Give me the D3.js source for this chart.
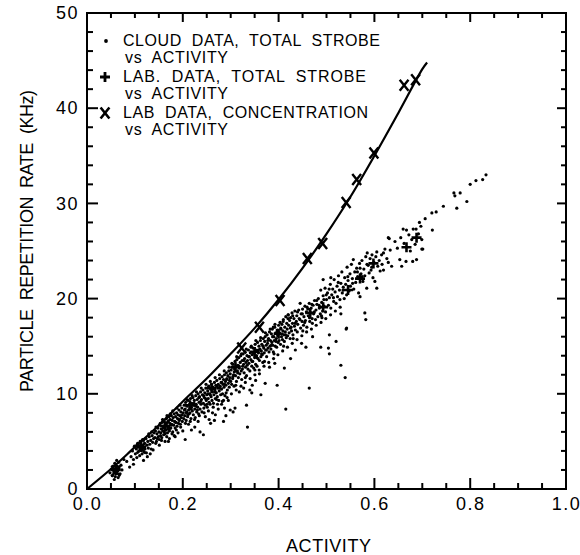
<!DOCTYPE html>
<html>
<head>
<meta charset="utf-8">
<script src="https://cdn.jsdelivr.net/npm/d3@7"></script>
<style>
  body { margin: 0; background: #fff; }
  svg { display: block; }
  text { font-family: "Liberation Sans", Arial, sans-serif; fill: #000; }
</style>
</head>
<body>
<svg id="chart" width="580" height="555"></svg>
<script>
// Axis ticks
const xMajorTicks = [0.0, 0.2, 0.4, 0.6, 0.8, 1.0];
const yMajorTicks = [0, 10, 20, 30, 40, 50];
const xMinorStep = 0.05;
const yMinorStep = 2;

// Smooth fit through the laboratory concentration data (activity, kHz)
const fitCurve = [
  [0, 0], [0.05, 2.1], [0.1, 4.4], [0.15, 6.7], [0.2, 9.2], [0.25, 11.6],
  [0.3, 14.2], [0.35, 16.9], [0.4, 19.9], [0.45, 23.2], [0.5, 26.8],
  [0.55, 30.7], [0.6, 35.0], [0.65, 39.5], [0.7, 44.1], [0.71, 44.8]
];

// Lab data, concentration vs activity (X markers)
const labConcentration = [
  [0.06, 1.9], [0.113, 4.3], [0.165, 6.8], [0.323, 14.8], [0.36, 17.0],
  [0.403, 19.8], [0.46, 24.2], [0.492, 25.8], [0.541, 30.1], [0.563, 32.5],
  [0.599, 35.3], [0.662, 42.4], [0.686, 43.0]
];

// Lab data, total strobe vs activity (+ markers)
const labTotalStrobe = [
  [0.06, 2.0], [0.113, 4.4], [0.163, 6.6], [0.215, 8.8], [0.26, 10.6],
  [0.31, 12.8], [0.35, 14.4], [0.4, 16.3], [0.466, 18.5], [0.493, 19.1],
  [0.545, 20.9], [0.57, 22.1], [0.598, 23.7], [0.667, 25.4], [0.688, 26.4]
];

// Cloud data, total strobe vs activity (dots), split by activity range
const cloudLow = [
  [.048,1.7],[.051,2.1],[.053,1.4],[.055,2.4],[.056,1.8],[.058,2.7],[.059,1.3],[.060,2.1],
  [.061,1.6],[.063,2.4],[.064,1.9],[.065,1.2],[.066,2.8],[.067,2.2],[.069,1.6],[.071,2.5],
  [.073,2.0],[.057,1.0],[.062,3.0],[.083,2.9],[.089,2.3],[.097,2.6],[.077,3.1],
  [.092,3.4],[.095,4.0],[.097,3.1],[.099,4.5],[.101,3.7],[.103,4.2],[.104,3.3],[.106,4.8],
  [.107,3.9],[.109,4.4],[.110,3.5],[.111,5.0],[.112,4.1],[.114,4.6],[.115,3.7],[.116,5.2],
  [.117,4.3],[.119,3.9],[.120,4.8],[.121,4.2],[.123,5.3],[.124,3.8],[.125,4.6],[.127,5.0],
  [.128,4.3],[.130,5.5],[.131,4.7],[.133,5.1],[.134,4.2],[.136,5.6],[.137,4.9],[.139,5.3],
  [.140,5.9],[.118,3.0],[.126,3.4],[.132,3.7],[.138,4.1],
  [.142,5.4],[.143,6.1],[.145,5.0],[.146,5.8],[.148,6.4],[.149,5.5],[.150,6.0],[.151,5.2],
  [.152,6.7],[.154,5.9],[.155,6.3],[.156,5.4],[.157,7.0],[.158,6.1],[.159,6.6],[.160,5.7],
  [.161,7.2],[.162,6.4],[.163,5.8],[.164,6.9],[.165,6.2],[.166,7.4],[.167,6.6],[.168,5.9],
  [.169,7.1],[.170,6.5],[.171,7.6],[.172,6.1],[.173,6.9],[.174,7.3],[.175,6.4],[.176,7.7],
  [.177,6.8],[.178,7.2],[.179,6.0],[.180,7.5],[.181,6.7],[.182,7.9],[.183,7.1],[.184,6.4],
  [.185,7.6],[.186,7.0],[.187,8.0],[.188,6.6],[.189,7.4],[.190,7.8],[.191,6.9],[.192,8.3],
  [.193,7.3],[.194,7.7],[.195,6.8],[.196,8.1],[.197,7.5],[.198,8.5],[.199,7.1],
  [.151,4.6],[.163,5.0],[.172,5.3],[.182,5.6],[.190,5.9],[.205,5.2],[.218,6.2],[.225,6.5],
  [.243,5.7],[.200,6.1],[.184,5.5],[.170,5.0]
];

const cloudMid = [
  [.201,8.0],[.202,7.4],[.203,8.8],[.204,7.7],[.205,8.4],[.206,9.1],[.207,7.2],[.208,8.1],
  [.209,8.7],[.210,7.6],[.211,9.3],[.212,8.3],[.213,7.9],[.214,8.9],[.215,8.0],[.216,9.5],
  [.217,7.4],[.218,8.6],[.219,9.0],[.220,8.2],[.221,9.6],[.222,7.8],[.223,8.8],[.224,9.3],
  [.225,8.4],[.226,7.5],[.227,9.8],[.228,8.9],[.229,8.1],[.230,9.4],[.231,8.6],[.232,10.0],
  [.233,7.9],[.234,9.1],[.235,9.7],[.236,8.4],[.237,10.2],[.238,8.9],[.239,9.4],[.240,8.1],
  [.241,9.9],[.242,10.4],[.243,9.0],[.244,8.5],[.245,9.6],[.246,10.1],[.247,8.8],[.248,10.6],
  [.249,9.3],[.250,9.9],[.251,8.6],[.252,10.3],[.253,9.5],[.254,10.8],[.255,9.1],[.256,10.0],
  [.257,8.9],[.258,10.5],[.259,9.7],[.260,11.0],[.261,9.3],[.262,10.2],[.263,10.7],[.264,9.0],
  [.265,9.9],[.266,11.2],[.267,10.4],[.268,9.5],[.269,10.9],[.270,10.1],[.271,11.4],[.272,9.7],
  [.273,10.6],[.274,11.0],[.275,9.3],[.276,10.3],[.277,11.6],[.278,10.8],[.279,9.9],[.280,11.2],
  [.281,10.5],[.282,11.8],[.283,10.0],[.284,11.0],[.285,11.5],[.286,10.7],[.287,12.0],[.288,9.8],
  [.289,11.3],[.290,10.9],[.291,12.2],[.292,11.6],[.293,10.4],[.294,11.9],[.295,11.1],[.296,12.4],
  [.297,10.7],[.298,11.7],[.299,12.1],[.300,11.3],
  [.212,6.8],[.232,7.1],[.247,7.6],[.255,7.3],[.262,8.0],[.268,7.8],[.274,8.4],[.281,8.9],
  [.287,8.5],[.295,9.3],[.290,7.7],[.236,6.0],[.258,6.9],[.266,7.2],[.285,7.1],[.305,8.1],
  [.301,12.5],[.302,11.0],[.303,12.8],[.304,11.6],[.305,13.1],[.306,12.0],[.307,10.8],[.308,12.6],
  [.309,13.4],[.310,11.9],[.311,12.9],[.312,11.3],[.313,13.6],[.314,12.4],[.315,13.0],[.316,11.7],
  [.317,13.8],[.318,12.7],[.319,12.1],[.320,13.3],[.321,14.0],[.322,12.4],[.323,11.5],[.324,13.5],
  [.325,12.9],[.326,14.2],[.327,13.1],[.328,12.2],[.329,13.7],[.330,14.4],[.331,12.8],[.332,13.3],
  [.333,11.9],[.334,14.0],[.335,13.5],[.336,12.6],[.337,14.6],[.338,13.2],[.339,13.9],[.340,12.4],
  [.341,14.3],[.342,13.6],[.343,15.0],[.344,12.9],[.345,14.1],[.346,13.4],[.347,14.8],[.348,12.7],
  [.349,14.4],[.350,13.8],[.351,15.2],[.352,13.1],[.353,14.6],[.354,14.0],[.355,12.9],[.356,15.4],
  [.357,13.7],[.358,14.3],[.359,15.0],[.360,13.5],[.361,14.7],[.362,15.6],[.363,13.9],[.364,14.5],
  [.365,15.2],[.366,14.1],[.367,13.3],[.368,15.8],[.369,14.8],[.370,14.3],[.371,15.5],[.372,16.0],
  [.373,14.6],[.374,15.1],[.375,13.9],[.376,16.2],[.377,15.3],[.378,14.8],[.379,15.8],[.380,14.4],
  [.381,16.5],[.382,15.0],[.383,15.6],[.384,14.7],[.385,16.3],[.386,15.4],[.387,16.8],[.388,15.1],
  [.389,14.4],[.390,16.0],[.391,15.6],[.392,17.0],[.393,15.0],[.394,16.4],[.395,15.8],[.396,14.9],
  [.397,16.7],[.398,16.1],[.399,15.4],[.400,17.2],
  [.309,8.5],[.299,8.3],[.285,9.3],[.333,8.8],[.340,10.4],[.344,10.1],[.363,9.9],[.372,11.1],
  [.397,10.9],[.415,8.4],[.335,6.5],[.318,10.2],[.327,10.6],[.352,11.4],[.345,10.9],[.360,12.1],
  [.381,12.8],[.392,13.2],[.412,12.7],[.425,13.7],[.464,10.6],[.389,17.0]
];

const cloudHigh = [
  [.401,15.6],[.402,16.4],[.403,17.5],[.404,15.2],[.405,16.8],[.406,16.0],[.407,17.3],[.408,15.7],
  [.409,16.6],[.410,17.8],[.411,16.2],[.412,15.5],[.413,17.0],[.414,16.5],[.415,18.1],[.416,15.9],
  [.417,17.4],[.418,16.8],[.419,16.1],[.420,18.3],[.421,17.2],[.422,16.4],[.423,17.7],[.424,15.8],
  [.425,18.0],[.426,17.0],[.427,16.6],[.428,18.5],[.429,17.4],[.430,16.2],[.432,17.9],[.433,17.1],
  [.434,18.7],[.435,16.7],[.437,17.6],[.438,18.2],[.439,16.5],[.440,17.3],[.442,18.8],[.443,17.9],
  [.445,19.5],[.446,16.9],[.447,18.4],[.449,17.6],[.450,18.9],[.452,17.2],[.453,18.1],[.455,19.2],
  [.456,17.7],[.458,18.6],[.459,17.0],[.461,18.9],[.462,18.2],[.464,19.5],[.465,17.6],[.467,18.5],
  [.468,19.0],[.470,17.9],[.472,19.3],[.473,18.4],[.475,19.8],[.477,17.8],[.478,18.8],[.480,19.4],
  [.482,18.1],[.483,20.0],[.485,19.0],[.487,18.4],[.488,20.9],[.490,19.6],[.492,18.7],[.493,20.3],
  [.495,19.2],[.497,21.1],[.498,18.6],[.500,19.9],
  [.435,14.6],[.448,15.3],[.457,14.9],[.471,16.0],[.488,14.9],[.504,14.8],[.506,14.2],[.506,16.2],
  [.520,15.5],[.530,13.0],[.539,11.7],[.541,16.8],[.530,18.4],[.420,18.3],[.493,22.0],[.509,22.2],
  [.502,20.6],[.504,19.3],[.506,20.1],[.508,21.5],[.509,19.0],[.511,20.4],[.513,21.0],[.515,19.7],
  [.516,22.0],[.518,20.7],[.520,19.5],[.522,21.3],[.523,20.2],[.525,22.4],[.527,20.9],[.528,19.9],
  [.530,21.6],[.532,22.8],[.533,20.6],[.535,21.2],[.537,20.0],[.538,22.2],[.540,21.5],[.542,20.4],
  [.543,23.3],[.545,21.9],[.547,20.8],[.549,22.6],[.550,21.3],[.552,23.6],[.554,22.1],[.556,24.1],
  [.557,21.0],[.559,22.8],[.561,21.7],[.563,23.2],[.565,22.3],[.567,20.6],[.569,23.7],[.570,20.2],
  [.572,22.6],[.574,24.0],[.576,21.8],[.578,23.1],[.580,22.4],[.582,24.4],[.584,21.1],[.585,24.8],
  [.587,23.5],[.589,22.7],[.591,24.2],[.593,23.0],[.595,24.6],[.597,22.2],[.599,23.8],[.601,21.8],
  [.603,24.4],[.605,24.9],[.605,21.1],[.580,18.5],[.582,17.8],[.542,16.9],[.570,23.2]
];

const cloudTail = [
  [.607,23.4],[.610,24.0],[.612,22.9],[.615,24.6],[.619,23.0],[.619,24.8],[.622,25.2],[.626,24.2],
  [.629,23.8],[.629,26.4],[.631,26.3],[.633,25.1],[.636,23.4],[.643,26.0],[.655,26.4],[.653,24.1],
  [.657,23.4],[.660,27.3],[.666,23.9],[.667,27.2],[.678,26.2],[.680,23.9],[.681,27.3],[.687,27.3],
  [.688,24.1],[.694,28.0],[.697,27.6],[.699,26.2],[.699,25.2],[.701,25.2],[.706,28.4],[.720,29.0],
  [.721,27.2],[.729,29.1],[.744,29.7],[.766,31.1],[.768,30.8],[.772,29.5],[.779,31.1],[.793,30.2],
  [.800,32.0],[.812,32.4],[.826,32.5],[.833,33.0],[.616,23.6],[.648,25.3],[.662,25.8],[.672,26.7],
  [.675,25.0],[.685,25.7],[.692,26.8]
];

// Further cloud readings inside the dense band
const cloudBand = [
  [.104,4.6],[.118,5.1],[.129,5.8],[.135,6.0],[.144,6.5],[.153,6.9],[.158,7.3],[.167,7.7],
  [.174,7.9],[.179,8.2],[.188,8.5],[.194,8.8],[.1465,5.3],[.1535,5.6],[.1615,6.0],[.1685,6.3],
  [.1755,6.7],[.1845,7.0],[.1925,7.2],[.1985,7.8],
  [.2035,8.3],[.2085,9.4],[.2145,8.5],[.2195,9.8],[.2235,9.0],[.2285,10.2],[.2335,9.6],[.2385,10.6],
  [.2435,9.8],[.2485,11.0],[.2525,10.0],[.2575,11.3],[.2625,10.5],[.2675,11.7],[.2715,10.8],[.2765,12.0],
  [.2815,11.2],[.2865,12.4],[.2915,11.5],[.2965,12.8],[.2075,8.0],[.2175,8.4],[.2275,8.7],[.2375,9.2],
  [.2475,9.5],[.2575,9.9],[.2675,10.2],[.2775,10.6],[.2875,11.0],[.2975,11.4],
  [.3025,13.2],[.3075,12.3],[.3125,13.9],[.3175,12.9],[.3225,14.2],[.3275,13.5],[.3325,14.7],[.3375,13.9],
  [.3425,14.9],[.3475,14.3],[.3525,15.6],[.3575,14.6],[.3625,15.9],[.3675,15.0],[.3725,16.4],[.3775,15.6],
  [.3825,16.8],[.3875,16.0],[.3925,17.3],[.3975,16.5],[.3045,11.8],[.3145,12.2],[.3245,12.6],[.3345,13.0],
  [.3445,13.4],[.3545,13.8],[.3645,14.2],[.3745,14.6],[.3845,15.1],[.3945,15.5],
  [.4045,16.9],[.4095,17.6],[.4145,16.2],[.4195,17.9],[.4245,16.9],[.4295,18.2],[.4345,17.4],[.4395,18.6],
  [.4445,17.8],[.4495,18.4],[.4545,17.5],[.4595,19.1],[.4645,18.0],[.4695,19.4],[.4745,18.6],[.4795,19.8],
  [.4845,19.3],[.4895,18.2],[.4945,19.9],[.4995,20.4],
  [.5055,21.0],[.5145,20.1],[.5245,21.7],[.5345,20.9],[.5445,22.3],[.5545,21.6],[.5645,22.8],[.5745,22.3],
  [.5845,23.6],[.5945,23.3]
];

// Lower half of the dense band
const cloudBandLower = [
  [.1435,4.8],[.1555,5.1],[.1665,5.5],[.1775,5.8],[.1865,6.2],[.1955,6.5],[.2055,6.9],[.2155,7.1],
  [.2245,7.3],[.2345,7.7],[.2445,8.0],[.2535,8.2],[.2635,8.6],[.2725,8.9],[.2825,9.2],[.2925,9.6],
  [.3015,10.0],[.3115,10.4],[.3215,10.8],[.3305,11.2],[.3405,11.6],[.3505,12.0],[.3595,12.5],[.3695,12.9],
  [.3795,13.3],[.3895,13.7],[.3985,14.1],[.4085,14.5],[.4185,14.9],[.4285,15.3],[.4385,15.7],[.4485,16.1],
  [.4585,16.5],[.4685,16.8],[.4785,17.2],[.4885,17.5],[.4985,17.9],[.5085,18.3],[.5185,18.7],[.5285,19.1],
  [.2105,7.8],[.2305,8.3],[.2505,8.9],[.2705,9.4],[.2905,10.1],[.3105,10.9],[.3305,11.7],[.3505,12.5],
  [.3705,13.4],[.3905,14.2],[.4105,15.0],[.4305,15.8],[.4505,16.6],[.4705,17.4],[.4905,18.0]
];

// Legend entries
const legendSymbols = ["dot", "plus", "cross"];
const legendFirstLines = [
  "CLOUD  DATA,  TOTAL  STROBE",
  "LAB.  DATA,  TOTAL  STROBE",
  "LAB  DATA,  CONCENTRATION"
];
const legendSecondLine = "vs  ACTIVITY";

const xTitle = "ACTIVITY";
const yTitle = "PARTICLE  REPETITION  RATE  (KHz)";

// ---------------------------------------------------------------
const svg = d3.select("#chart");
const plotLeft = 87, plotRight = 566, plotTop = 13, plotBottom = 489;

const x = d3.scaleLinear().domain([0, 1]).range([plotLeft, plotRight]);
const y = d3.scaleLinear().domain([0, 50]).range([plotBottom, plotTop]);

const xMinor = d3.range(0, 1.0001, xMinorStep);
const yMinor = d3.range(0, 50.001, yMinorStep);

function styleLabels(g) {
  g.select(".domain").remove();
  g.selectAll(".tick text")
    .style("font-family", '"Liberation Sans", Arial, sans-serif')
    .style("font-size", "18px")
    .style("letter-spacing", "1.5px")
    .attr("fill", "#000");
}

// Tick labels from d3 axes
svg.append("g").attr("transform", `translate(0,${plotBottom})`)
  .call(d3.axisBottom(x).tickValues(xMajorTicks).tickSize(0).tickPadding(8)
    .tickFormat(d3.format(".1f"))).call(styleLabels);
svg.append("g").attr("transform", `translate(${plotLeft},0)`)
  .call(d3.axisLeft(y).tickValues(yMajorTicks).tickSize(0).tickPadding(8)
    .tickFormat(d3.format("d"))).call(styleLabels);

// Inward tick marks on all four sides (long at labelled values)
const isMajorX = v => xMajorTicks.some(t => Math.abs(t - v) < 1e-6);
const isMajorY = v => yMajorTicks.some(t => Math.abs(t - v) < 1e-6);
const tickSegs = [];
xMinor.forEach(v => {
  const px = x(v);
  const lb = isMajorX(v) ? 11 : 6, lt = isMajorX(v) ? 9 : 5;
  tickSegs.push([px, plotBottom, px, plotBottom - lb]);
  tickSegs.push([px, plotTop, px, plotTop + lt]);
});
yMinor.forEach(v => {
  const py = y(v);
  const ll = isMajorY(v) ? 11 : 6, lr = isMajorY(v) ? 9 : 5;
  tickSegs.push([plotLeft, py, plotLeft + ll, py]);
  tickSegs.push([plotRight, py, plotRight - lr, py]);
});
svg.append("g").attr("class", "tick-marks")
  .selectAll("line").data(tickSegs).join("line")
  .attr("x1", d => d[0]).attr("y1", d => d[1])
  .attr("x2", d => d[2]).attr("y2", d => d[3])
  .style("stroke", "#000").style("stroke-width", "2px");

// Frame
svg.append("rect")
  .attr("x", plotLeft).attr("y", plotTop)
  .attr("width", plotRight - plotLeft).attr("height", plotBottom - plotTop)
  .attr("fill", "none").attr("stroke", "#000").attr("stroke-width", 2);

// Fitted curve
svg.append("path")
  .datum(fitCurve)
  .attr("fill", "none").attr("stroke", "#000").attr("stroke-width", 2.2)
  .attr("d", d3.line().x(d => x(d[0])).y(d => y(d[1])).curve(d3.curveCatmullRom));

// Cloud dots
const cloud = cloudLow.concat(cloudMid, cloudHigh, cloudTail, cloudBand, cloudBandLower);
svg.append("g").selectAll("circle").data(cloud).join("circle")
  .attr("cx", d => x(d[0])).attr("cy", d => y(d[1])).attr("r", 1.6).attr("fill", "#000");

// Marker shapes
const plusPath = s => `M${-s},0L${s},0M0,${-s}L0,${s}`;
const crossPath = s => `M${-s*0.8},${-s}L${s*0.8},${s}M${-s*0.8},${s}L${s*0.8},${-s}`;

svg.append("g").selectAll("path").data(labTotalStrobe).join("path")
  .attr("transform", d => `translate(${x(d[0])},${y(d[1])})`)
  .attr("d", plusPath(5)).attr("stroke", "#000").attr("stroke-width", 2.6).attr("fill", "none");

svg.append("g").selectAll("path").data(labConcentration).join("path")
  .attr("transform", d => `translate(${x(d[0])},${y(d[1])})`)
  .attr("d", crossPath(5.5)).attr("stroke", "#000").attr("stroke-width", 2.4).attr("fill", "none");

// Legend
const legendX = 123, markerX = 105;
const legendBaselines = [46, 82, 118];
const legendWidths = [257, 243, 245];
legendSymbols.forEach((sym, i) => {
  const b = legendBaselines[i];
  const cy = b - 5;
  if (sym === "dot") {
    svg.append("circle").attr("cx", markerX + 1).attr("cy", cy).attr("r", 1.9).attr("fill", "#000");
  } else if (sym === "plus") {
    svg.append("path").attr("transform", `translate(${markerX},${cy})`)
      .attr("d", plusPath(5)).attr("stroke", "#000").attr("stroke-width", 2.8);
  } else {
    svg.append("path").attr("transform", `translate(${markerX},${cy})`)
      .attr("d", crossPath(5.5)).attr("stroke", "#000").attr("stroke-width", 2.6);
  }
  svg.append("text").attr("x", legendX).attr("y", b)
    .attr("textLength", legendWidths[i]).attr("lengthAdjust", "spacing")
    .style("font-size", "16px").style("white-space", "pre")
    .text(legendFirstLines[i]);
  svg.append("text").attr("x", legendX + 2).attr("y", b + 17)
    .attr("textLength", 103).attr("lengthAdjust", "spacing")
    .style("font-size", "16px").style("white-space", "pre")
    .text(legendSecondLine);
});

// Axis titles
svg.append("text")
  .attr("x", x(0.5) + 2).attr("y", 552)
  .attr("text-anchor", "middle")
  .attr("textLength", 85).attr("lengthAdjust", "spacing")
  .style("font-size", "18px")
  .text(xTitle);

svg.append("text")
  .attr("transform", "translate(33,241) rotate(-90)")
  .attr("text-anchor", "middle")
  .attr("textLength", 302).attr("lengthAdjust", "spacing")
  .style("font-size", "18px").style("white-space", "pre")
  .text(yTitle);
</script>
</body>
</html>
